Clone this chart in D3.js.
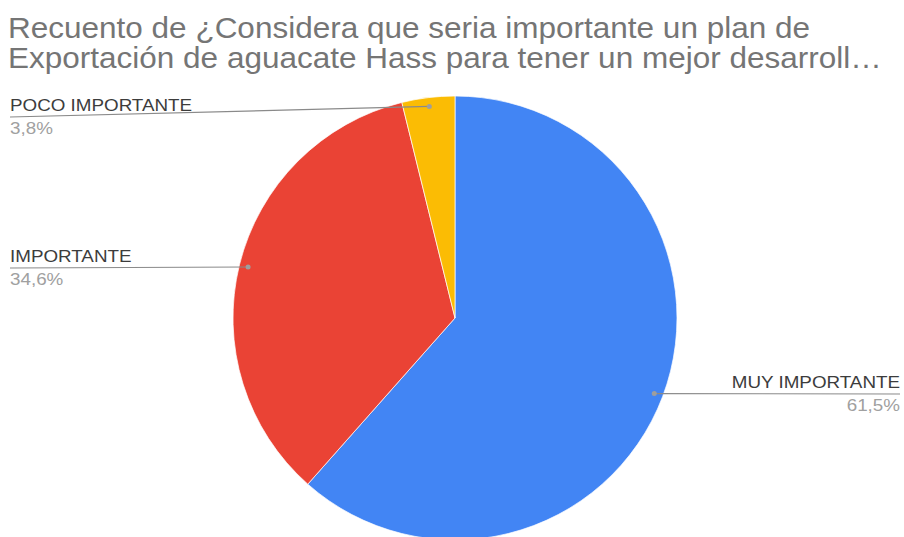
<!DOCTYPE html>
<html>
<head>
<meta charset="utf-8">
<script src="https://cdn.jsdelivr.net/npm/d3@7"></script>
<style>
  body { margin: 0; background: #fff; }
  svg { display: block; }
</style>
</head>
<body>
<div id="chart"></div>
<script>
const titleLines = [
    'Recuento de ¿Considera que seria importante un plan de',
    'Exportación de aguacate Hass para tener un mejor desarroll…'
];
const categories = ['MUY IMPORTANTE', 'IMPORTANTE', 'POCO IMPORTANTE'];
const counts = [16, 9, 1];
const percentLabels = ['61,5%', '34,6%', '3,8%'];
const sliceColors = ['#4285f4', '#ea4335', '#fbbc04'];

const width = 904;
const height = 537;
const cx = 455;
const cy = 318;
const radius = 222;
const font = '"Liberation Sans", Arial, sans-serif';

const svg = d3.select('#chart')
    .append('svg')
    .attr('width', width)
    .attr('height', height);

// the reference text is a little wider than the font, stretch it
function widen(sel, k) {
    sel.each(function() {
        const len = this.getComputedTextLength();
        d3.select(this)
            .attr('textLength', len * k)
            .attr('lengthAdjust', 'spacingAndGlyphs');
    });
}

// title
svg.append('g')
    .selectAll('text')
    .data(titleLines)
    .enter()
    .append('text')
    .attr('x', 8)
    .attr('y', (d, i) => 38 + i * 30)
    .style('font-family', font)
    .style('font-size', '29px')
    .style('fill', '#757575')
    .text(d => d)
    .call(widen, 31.5 / 29);

const data = categories.map((c, i) => ({
    category: c, value: counts[i], pct: percentLabels[i], color: sliceColors[i]
}));

const pie = d3.pie().value(d => d.value).sort(null);
const arc = d3.arc().innerRadius(0).outerRadius(radius);
const arcs = pie(data);

const g = svg.append('g').attr('transform', `translate(${cx}, ${cy})`);

g.selectAll('path')
    .data(arcs)
    .enter()
    .append('path')
    .attr('d', arc)
    .attr('fill', d => d.data.color)
    .attr('stroke', '#fff')
    .attr('stroke-width', 0.7);

// label layout: side and y of the underline
const labelPos = {
    'MUY IMPORTANTE': { side: 'right', x: 900, y: 394 },
    'IMPORTANTE': { side: 'left', x: 10, y: 268 },
    'POCO IMPORTANTE': { side: 'left', x: 10, y: 117 }
};

const dotR = radius * 0.96;
arcs.forEach(a => {
    const mid = (a.startAngle + a.endAngle) / 2;
    const px = cx + Math.sin(mid) * dotR;
    const py = cy - Math.cos(mid) * dotR;
    const lp = labelPos[a.data.category];
    const left = lp.side === 'left';

    svg.append('path')
        .attr('d', `M${lp.x},${lp.y}L${px},${py}`)
        .attr('fill', 'none')
        .attr('stroke', '#8a8a8a')
        .attr('stroke-width', 1.2);

    svg.append('circle')
        .attr('cx', px)
        .attr('cy', py)
        .attr('r', 2.5)
        .attr('fill', '#9e9e9e');

    svg.append('text')
        .attr('x', lp.x)
        .attr('y', lp.y - 6)
        .attr('text-anchor', left ? 'start' : 'end')
        .style('font-family', font)
        .style('font-size', '16.5px')
        .style('fill', '#3c3c3c')
        .text(a.data.category)
        .call(widen, 18.8 / 16.5);

    svg.append('text')
        .attr('x', lp.x)
        .attr('y', lp.y + 17)
        .attr('text-anchor', left ? 'start' : 'end')
        .style('font-family', font)
        .style('font-size', '16.5px')
        .style('fill', '#a0a0a0')
        .text(a.data.pct)
        .call(widen, 18.8 / 16.5);
});
</script>
</body>
</html>
